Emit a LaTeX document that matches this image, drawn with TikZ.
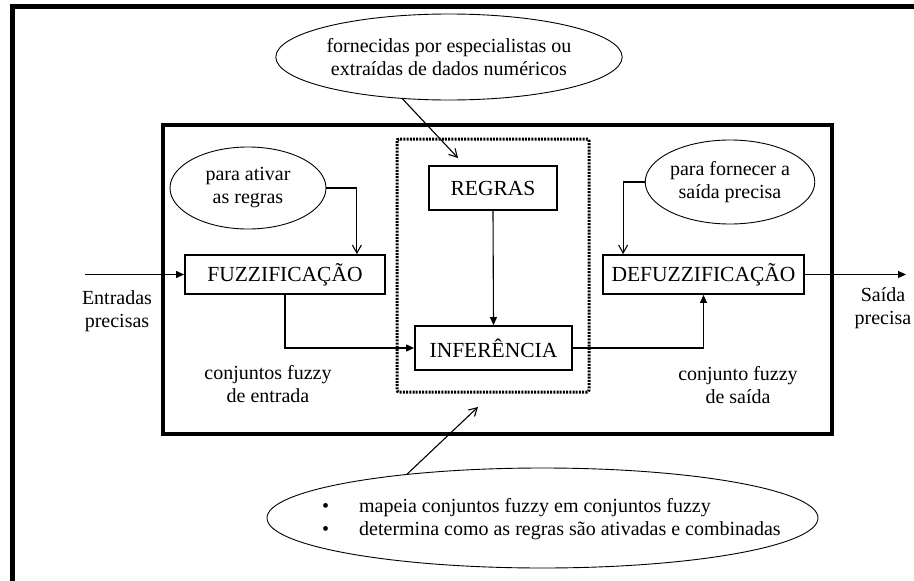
\documentclass[tikz,border=0pt]{standalone}
\usepackage{fontspec}
\setmainfont{Liberation Serif}
\usetikzlibrary{shapes.geometric,arrows.meta,calc}
\begin{document}
\begin{tikzpicture}[x=1pt,y=-1pt,
  lbl/.style={font=\fontsize{20}{23}\selectfont, align=center, inner sep=0},
  box/.style={draw, line width=1.8pt, inner sep=0, font=\fontsize{21.5}{24}\selectfont},
  bubble/.style={draw, ellipse, line width=0.9pt, inner sep=0, font=\fontsize{20}{23}\selectfont, align=center},
  flow/.style={line width=1.1pt, -{Triangle[length=8pt,width=7pt]}},
  note/.style={line width=1.1pt, -{Straight Barb[length=8pt,width=9pt]}}
]
\useasboundingbox (0,0) rectangle (914,581);
% outer frame
\draw[line width=5pt] (12,581) -- (12,6.5) -- (914,6.5);
% main block
\draw[line width=3.5pt] (163,125) rectangle (832,434);
% inference frame
\draw[line width=3pt, dash pattern=on 2pt off 1.2pt, rounded corners=2pt] (397,139) rectangle (589,392);

% boxes
\node[box, minimum width=128pt, minimum height=44pt] (regras) at (493,188) {REGRAS};
\node[box, minimum width=157pt, minimum height=44pt] (infer) at (493.5,348) {INFERÊNCIA};
\node[box, minimum width=200pt, minimum height=39pt] (fuzz) at (285,274.5) {FUZZIFICAÇÃO};
\node[box, minimum width=201pt, minimum height=39pt] (defuzz) at (703.5,274.5) {DEFUZZIFICAÇÃO};

% bubbles
\node[bubble, minimum width=286pt, minimum height=86pt] (topell) at (449,57) {fornecidas por especialistas ou\\extraídas de dados numéricos};
\node[bubble, minimum width=156pt, minimum height=82pt] (ativar) at (248,188) {para ativar\\as regras};
\node[bubble, minimum width=156pt, minimum height=84pt] (forn) at (730,182) {para fornecer a\\saída precisa};
\node[bubble, minimum width=551pt, minimum height=100pt] (bot) at (542.5,518) {};
\node[lbl, anchor=west, align=left] (bottxt) at (322,519) {\makebox[37pt][l]{•}mapeia conjuntos fuzzy em conjuntos fuzzy\\\makebox[37pt][l]{•}determina como as regras são ativadas e combinadas};

% labels
\node[lbl] (entr) at (117,311) {Entradas\\precisas};
\node[lbl] (said) at (883,308) {Saída\\precisa};
\node[lbl] (cfe) at (268,384) {conjuntos fuzzy\\de entrada};
\node[lbl] (cfs) at (738,385) {conjunto fuzzy\\de saída};

% free ends
\coordinate (inp) at (85,274.5);
\coordinate (outp) at (906,274.5);
\coordinate (tipR) at (458,158);
\coordinate (tipI) at (478,407);

% flow connectors
\draw[flow] (inp) -- (fuzz.west);
\draw[flow] (fuzz.south) |- (infer.west);
\draw[flow] (regras.south) -- (infer.north);
\draw[flow] (infer.east) -| (defuzz.south);
\draw[flow] (defuzz.east) -- (outp);

% annotation connectors
\draw[note] (topell.222) -- (tipR);
\draw[note] (ativar.east) -| ($(fuzz.north east)+(-29,0)$);
\draw[note] (forn.west) -| ($(defuzz.north west)+(21,0)$);
\draw[note] (bot.162) -- (tipI);
\end{tikzpicture}
\end{document}
